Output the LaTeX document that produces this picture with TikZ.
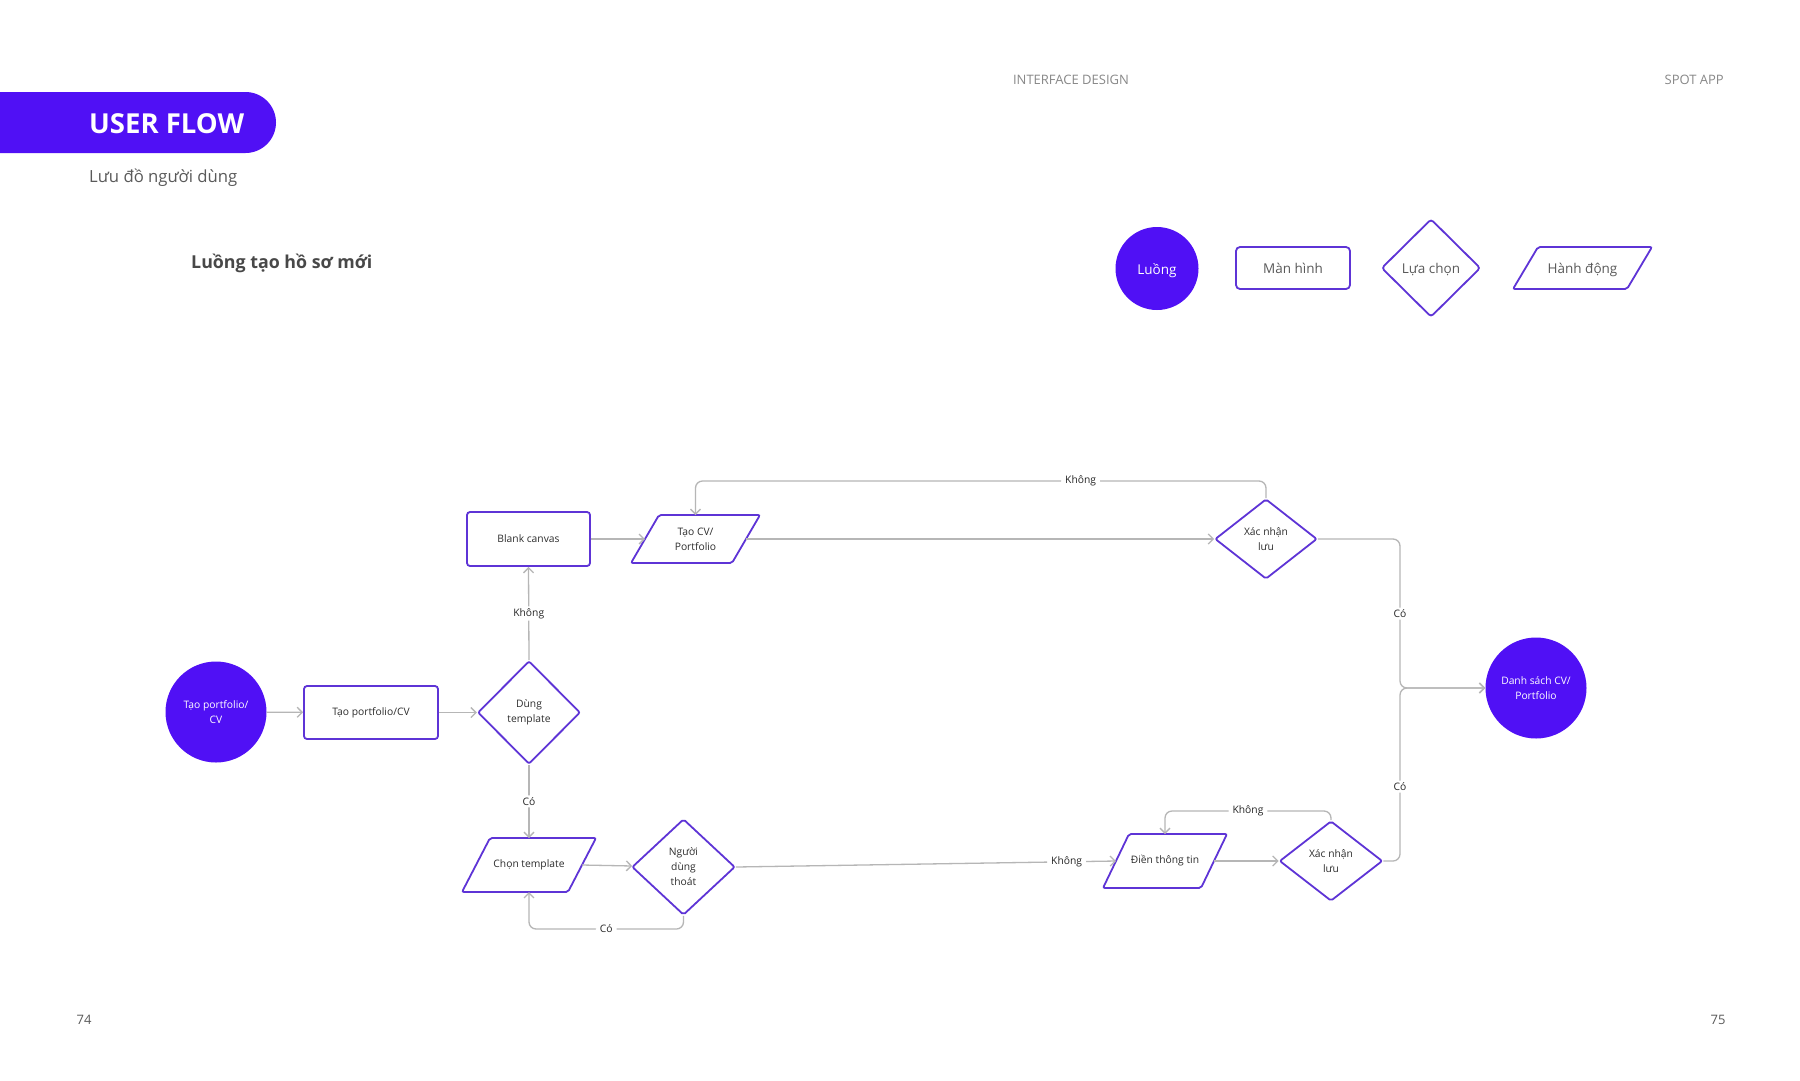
\documentclass[tikz,border=0pt]{standalone}
\usepackage{fontspec}
\setmainfont{Open Sans}
\usetikzlibrary{shapes.geometric,arrows.meta}
\definecolor{vfill}{RGB}{80,16,245}
\definecolor{vedge}{RGB}{94,52,214}
\definecolor{cgray}{RGB}{182,182,182}
\definecolor{ntext}{RGB}{45,45,45}
\definecolor{htext}{RGB}{136,136,136}
\definecolor{stext}{RGB}{90,90,90}
\definecolor{ttext}{RGB}{72,72,72}
\newcommand{\paral}[2]{\draw[draw=vedge, line width=1.8pt, rounded corners=2pt] ([xshift=#2]#1.north west) -- (#1.north east) -- ([xshift=-#2]#1.south east) -- (#1.south west) -- cycle;}
\newcommand{\lowtext}[1]{\raisebox{-2pt}[\height][\depth]{#1}}
\begin{document}
\begin{tikzpicture}[x=1pt,y=-1pt,
  nfont/.style={font=\fontsize{10.3}{15}\selectfont},
  flowc/.style={circle, fill=vfill, text=white, inner sep=0pt, align=center, nfont},
  screenbox/.style={draw=vedge, line width=1.8pt, rounded corners=3pt, fill=white, text=ntext, inner sep=0pt, align=center, nfont},
  choicebox/.style={diamond, draw=vedge, line width=1.8pt, rounded corners=2pt, fill=white, text=ntext, inner sep=0pt, align=center, nfont},
  actionbox/.style={rectangle, draw=none, inner sep=0pt, outer sep=0pt, text=ntext, align=center, nfont},
  conn/.style={draw=cgray, line width=1.3pt, rounded corners=7pt, -{Straight Barb[length=5pt,width=10pt]}},
  lbl/.style={fill=white, text=black!85, inner xsep=4pt, inner ysep=2pt, font=\fontsize{10.3}{12}\selectfont},
  legfont/.style={font=\fontsize{13.5}{16}\selectfont}
]
\useasboundingbox (0,0) rectangle (1800,1080);
\fill[white] (0,0) rectangle (1800,1080);

% header
\begin{scope}
\clip (0,0) rectangle (1800,1080);
\fill[vfill, rounded corners=30.5pt] (-40,92) rectangle (276,153);
\end{scope}
\node[anchor=base west, text=white, inner sep=0pt, font=\fontsize{27.5}{30}\selectfont\bfseries] (title) at (89,133) {USER FLOW};
\node[anchor=base west, text=stext, inner sep=0pt, font=\fontsize{16.7}{20}\selectfont] (subtitle) at (89,182) {Lưu đồ người dùng};
\node[anchor=base west, text=ttext, inner sep=0pt, font=\fontsize{17.8}{20}\selectfont\bfseries] (flowname) at (191,268) {Luồng tạo hồ sơ mới};
\node[anchor=base, text=htext, inner sep=0pt, font=\fontsize{13}{16}\selectfont] (hdr1) at (1071,84) {INTERFACE DESIGN};
\node[anchor=base east, text=htext, inner sep=0pt, font=\fontsize{13}{16}\selectfont] (hdr2) at (1724,84) {SPOT APP};
\node[anchor=base, text=stext, inner sep=0pt, font=\fontsize{13}{16}\selectfont] (pg1) at (84,1024) {74};
\node[anchor=base, text=stext, inner sep=0pt, font=\fontsize{13}{16}\selectfont] (pg2) at (1718,1024) {75};

% legend
\node[flowc, minimum size=83pt, legfont] (lg1) at (1157,268.5) {\lowtext{Luồng}};
\node[screenbox, minimum width=114pt, minimum height=42pt, rounded corners=4pt, legfont, text=stext] (lg2) at (1293,268) {Màn hình};
\node[choicebox, minimum width=99pt, minimum height=98pt, rounded corners=3pt, legfont, text=stext] (lg3) at (1431,268) {\lowtext{Lựa chọn}};
\node[actionbox, minimum width=139pt, minimum height=42pt, legfont, text=stext] (lg4) at (1582.5,268) {\lowtext{Hành động}};
\paral{lg4}{25pt}

% flow nodes
\node[flowc, minimum size=101pt] (start) at (216,712) {Tạo portfolio/\\CV};
\node[screenbox, minimum width=134pt, minimum height=53pt] (r1) at (371,712.5) {Tạo portfolio/CV};
\node[choicebox, minimum width=102.5pt, minimum height=103pt] (dung) at (529,712.5) {Dùng\\template};
\node[screenbox, minimum width=123pt, minimum height=54pt] (blank) at (528.5,539) {Blank canvas};
\node[actionbox, minimum width=129pt, minimum height=48pt] (tcv) at (695.5,539) {Tạo CV/\\Portfolio};
\paral{tcv}{28pt}
\node[choicebox, minimum width=102pt, minimum height=80pt] (xn1) at (1266,539) {Xác nhận\\lưu};
\node[flowc, minimum size=101pt] (endc) at (1536,688) {Danh sách CV/\\Portfolio};
\node[actionbox, minimum width=134pt, minimum height=54pt] (chon) at (529,865) {Chọn template};
\paral{chon}{28pt}
\node[choicebox, minimum width=103pt, minimum height=96pt] (ndt) at (683.5,867) {Người\\dùng\\thoát};
\node[actionbox, minimum width=124pt, minimum height=54pt] (dien) at (1165,861) {Điền thông tin};
\paral{dien}{26pt}
\node[choicebox, minimum width=103pt, minimum height=80pt] (xn2) at (1331,861) {Xác nhận\\lưu};

% helper coordinates
\coordinate (l1) at (0,481);
\coordinate (jx) at (1400,688);
\coordinate (l2) at (0,929);
\coordinate (l3) at (0,811);

% connectors
\draw[conn] (start) -- (r1);
\draw[conn] (r1) -- (dung);
\draw[conn] (dung.north) -- node[lbl] (lb1) {Không} (blank.south);
\draw[conn] (dung.south) -- node[lbl] (lb2) {Có} (chon.north);
\draw[conn] (blank) -- ([xshift=14pt]tcv.west);
\draw[conn] ([xshift=-14pt]tcv.east) -- (xn1);
\draw[conn] (xn1.north) -- (xn1.north |- l1) -- node[lbl, pos=0.325] (lb3) {Không} (tcv.north |- l1) -- (tcv.north);
\draw[conn] (xn1.east) -- (xn1.east -| jx) -- node[lbl] (lb4) {Có} (jx) -- (endc.west);
\draw[conn] ([xshift=-14pt]chon.east) -- (ndt);
\draw[conn] (ndt.south) -- (ndt.south |- l2) -- node[lbl] (lb5) {Có} (chon.south |- l2) -- (chon.south);
\draw[conn] (ndt.east) -- node[lbl, pos=0.87] (lb6) {Không} ([xshift=13pt]dien.west);
\draw[conn] ([xshift=-13pt]dien.east) -- (xn2);
\draw[conn] (xn2.north) -- (xn2.north |- l3) -- node[lbl] (lb7) {Không} (dien.north |- l3) -- (dien.north);
\draw[conn] (xn2.east) -- (xn2.east -| jx) -- node[lbl, pos=0.43] (lb8) {Có} (jx) -- (endc.west);
\end{tikzpicture}
\end{document}
